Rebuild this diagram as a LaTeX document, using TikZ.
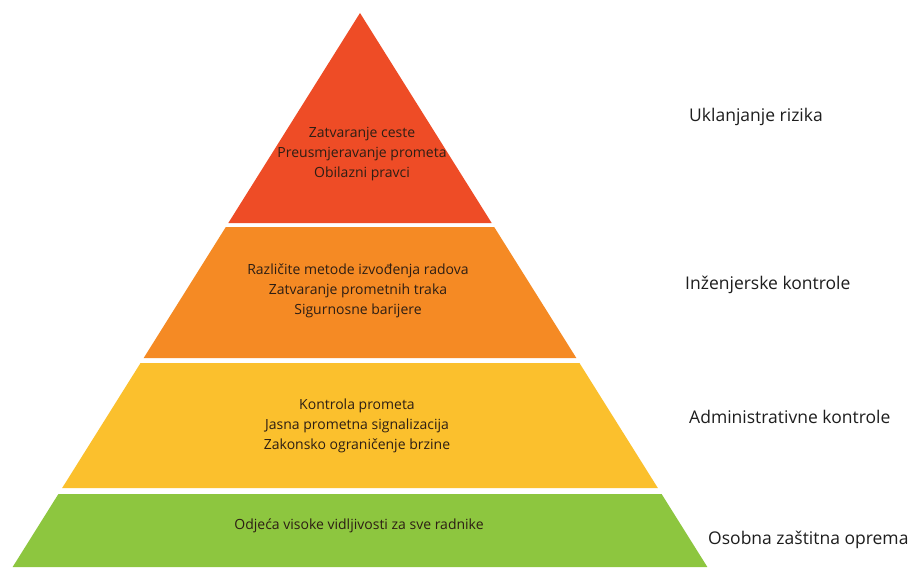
\documentclass[tikz,border=0pt]{standalone}
\usepackage{fontspec}
\setmainfont{Open Sans}
\definecolor{lred}{RGB}{238,76,38}
\definecolor{lorange}{RGB}{245,138,36}
\definecolor{lyellow}{RGB}{251,192,45}
\definecolor{lgreen}{RGB}{141,198,63}
\definecolor{ptext}{RGB}{45,30,20}
\definecolor{ltext}{RGB}{30,30,30}
\begin{document}
\begin{tikzpicture}[x=1pt,y=-1pt,
  layertext/.style={font=\fontsize{14}{20}\selectfont, text=ptext, align=center, inner sep=0pt},
  sidelabel/.style={font=\fontsize{17.5}{20}\selectfont, text=ltext, anchor=west, inner sep=0pt}]
\useasboundingbox[fill=white] (0,0) rectangle (909,567);
\def\cx{360}
\def\ay{13}
\def\k{0.627}
% layers
\fill[lred] (\cx,\ay) -- ({\cx+\k*(223-\ay)},223) -- ({\cx-\k*(223-\ay)},223) -- cycle;
\fill[lorange] ({\cx-\k*(227-\ay)},227) -- ({\cx+\k*(227-\ay)},227) -- ({\cx+\k*(358-\ay)},358) -- ({\cx-\k*(358-\ay)},358) -- cycle;
\fill[lyellow] ({\cx-\k*(363-\ay)},363) -- ({\cx+\k*(363-\ay)},363) -- ({\cx+\k*(488-\ay)},488) -- ({\cx-\k*(488-\ay)},488) -- cycle;
\fill[lgreen] ({\cx-\k*(494-\ay)},494) -- ({\cx+\k*(494-\ay)},494) -- ({\cx+\k*(567-\ay)},567) -- ({\cx-\k*(567-\ay)},567) -- cycle;
% texts in layers
\node[layertext] (t1) at (362,154) {Zatvaranje ceste\\Preusmjeravanje prometa\\Obilazni pravci};
\node[layertext] (t2) at (358,291) {Različite metode izvođenja radova\\Zatvaranje prometnih traka\\Sigurnosne barijere};
\node[layertext] (t3) at (357,425.5) {Kontrola prometa\\Jasna prometna signalizacija\\Zakonsko ograničenje brzine};
\node[layertext] (t4) at (359,526) {Odjeća visoke vidljivosti za sve radnike};
% side labels
\node[sidelabel] (l1) at (689,117) {Uklanjanje rizika};
\node[sidelabel] (l2) at (685,285) {Inženjerske kontrole};
\node[sidelabel] (l3) at (689,417) {Administrativne kontrole};
\node[sidelabel] (l4) at (708,540) {Osobna zaštitna oprema};
\end{tikzpicture}
\end{document}
